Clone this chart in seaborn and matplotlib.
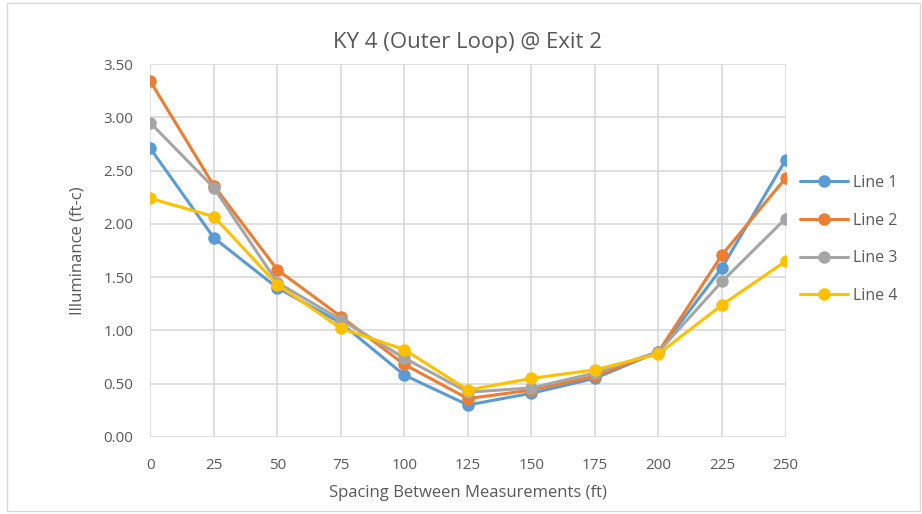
import matplotlib.pyplot as plt
import seaborn as sns
import pandas as pd

# distances (ft)
spacing = [0, 25, 50, 75, 100, 125, 150, 175, 200, 225, 250]

line1 = [2.71, 1.87, 1.40, 1.07, 0.58, 0.30, 0.41, 0.55, 0.80, 1.59, 2.60]
line2 = [3.34, 2.36, 1.57, 1.13, 0.68, 0.36, 0.44, 0.57, 0.80, 1.71, 2.43]
line3 = [2.95, 2.34, 1.45, 1.10, 0.74, 0.42, 0.46, 0.60, 0.80, 1.46, 2.05]
line4 = [2.24, 2.07, 1.43, 1.02, 0.82, 0.44, 0.55, 0.63, 0.78, 1.24, 1.65]

names = ["Line 1", "Line 2", "Line 3", "Line 4"]
colors = ["#5B9BD5", "#ED7D31", "#A5A5A5", "#FFC000"]

frames = []
for name, vals in zip(names, [line1, line2, line3, line4]):
    frames.append(pd.DataFrame({"x": spacing, "y": vals, "line": name}))
df = pd.concat(frames)

sns.set_style("white")
plt.rcParams["font.family"] = ["Open Sans", "DejaVu Sans"]
txt = "#595959"

fig = plt.figure(figsize=(9.22, 5.14), dpi=100)
ax = fig.add_axes([0.163, 0.150, 0.689, 0.725])

sns.lineplot(data=df, x="x", y="y", hue="line", palette=colors, marker="o",
             markersize=9, markeredgewidth=0, linewidth=2.2, ax=ax)

ax.set_xlim(0, 250)
ax.set_ylim(0, 3.5)
ax.set_xticks(spacing)
ax.set_yticks([i * 0.5 for i in range(8)])
ax.set_yticklabels([f"{i * 0.5:.2f}" for i in range(8)])
ax.grid(True, color="#d9d9d9", linewidth=1.2)
ax.set_axisbelow(True)
for s in ax.spines.values():
    s.set_visible(False)
ax.tick_params(colors=txt, labelsize=11, length=0)
ax.tick_params(axis="x", pad=15)
ax.tick_params(axis="y", pad=12)

ax.set_xlabel("Spacing Between Measurements (ft)", color=txt, fontsize=12, labelpad=9)
ax.set_ylabel("Illuminance (ft-c)", color=txt, fontsize=12, labelpad=13)
ax.set_title("KY 4 (Outer Loop) @ Exit 2", color=txt, fontsize=16, pad=12)

leg = ax.legend(loc="center left", bbox_to_anchor=(1.0, 0.53), frameon=False,
                fontsize=11.5, handlelength=3.0, labelspacing=1.35, handletextpad=0.3)
for t in leg.get_texts():
    t.set_color(txt)

fig.patches.append(plt.Rectangle((0.008, 0.005), 0.99, 0.99, transform=fig.transFigure,
                                 fill=False, edgecolor="#d9d9d9", linewidth=1))

fig.savefig("out.png", dpi=100)
